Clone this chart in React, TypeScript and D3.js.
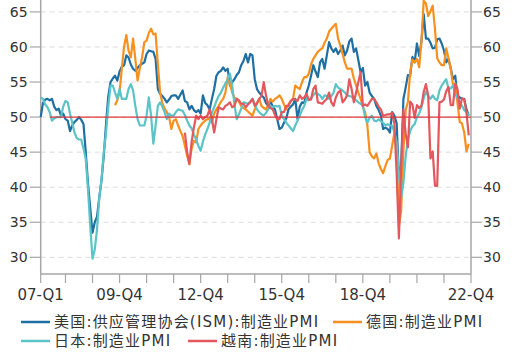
import React from "react";
import * as d3 from "d3";

// monthly data, Jan 2007 .. Nov 2022 (axis runs to Dec 2022)
const monthCount = 192;
const tickLabels = ["07-Q1", "09-Q4", "12-Q4", "15-Q4", "18-Q4", "22-Q4"];
const tickLabelIndex = [0, 35, 71, 107, 143, 191];
const yTicks = [30, 35, 40, 45, 50, 55, 60, 65];

const usIsm = [
  50.0, 52.0, 52.5, 52.6, 52.4, 52.6, 51.5, 51.0, 51.2, 50.2, 50.5, 49.7,
  49.5, 48.0, 48.8, 49.3, 49.6, 50.0, 49.6, 49.0, 45.0, 40.5, 37.0, 33.5,
  35.0, 35.8, 38.5, 41.0, 44.5, 49.0, 53.0, 55.0, 55.5, 55.9, 55.2, 56.5,
  57.2, 57.4, 58.8, 58.5, 57.5, 56.9, 56.6, 57.0, 57.4, 57.6, 57.8, 59.0,
  59.5, 59.4, 59.3, 58.3, 54.0, 53.3, 53.0, 52.6, 52.1, 52.5, 53.0, 53.1,
  53.1, 52.6, 53.2, 53.8, 52.3, 52.1, 51.1, 51.6, 51.0, 50.7, 51.0, 50.5,
  53.1, 52.0, 51.7, 51.1, 52.6, 54.0, 55.9, 56.4, 56.6, 57.1, 56.6, 56.9,
  54.5, 55.0, 55.4, 56.0, 56.4, 57.4, 58.0, 59.0, 57.8, 59.0, 58.8, 55.4,
  54.0, 53.5, 53.1, 52.8, 52.0, 51.6, 52.2, 51.5, 51.1, 49.7, 48.3, 48.5,
  49.2, 49.8, 51.1, 51.5, 51.8, 52.6, 49.7, 51.5, 52.1, 52.0, 53.5, 54.5,
  55.9, 57.4, 56.5, 55.7, 57.8, 58.3, 56.9, 58.8, 60.7, 59.8, 59.3, 59.8,
  59.0, 59.5, 60.2, 58.8, 59.5, 60.8, 61.2, 59.3, 59.8, 58.1, 56.4, 57.0,
  54.5, 55.0, 53.5, 53.0, 52.6, 51.6, 51.0, 50.2, 48.3, 48.5, 48.3, 47.8,
  50.7, 50.2, 49.1, 41.5, 43.1, 52.6, 54.2, 56.0, 55.9, 58.6, 57.8, 60.5,
  58.7, 60.8, 64.7, 61.2, 61.2, 60.6, 59.8, 59.9, 61.1, 61.2, 60.5, 59.5,
  57.8, 58.3, 57.0, 55.4, 55.9, 53.0, 52.8, 52.6, 52.6, 51.1, 50.2,
];

const germanyStart = 33;
const germany = [
  51.7, 52.4, 53.5,
  56.9, 60.0, 61.7, 59.5, 58.5, 61.2, 58.3, 55.2, 57.0, 58.5, 60.7, 60.9,
  62.0, 62.6, 61.8, 61.9, 57.5, 53.5, 52.0, 51.2, 50.7, 50.0, 48.3, 49.5,
  49.7, 48.8, 48.0, 47.3, 45.9, 44.5, 43.3, 45.5, 46.6, 46.4, 48.3, 48.8,
  49.2, 49.5, 49.7, 49.7, 49.2, 50.5, 51.1, 51.6, 52.2, 52.6, 53.5, 55.7,
  54.8, 53.5, 52.8, 52.6, 52.2, 51.6, 51.3, 51.1, 50.8, 50.5, 50.2, 51.1,
  51.9, 52.6, 51.6, 51.3, 51.1, 51.8, 52.6, 52.2, 52.6, 52.8, 53.1, 52.6,
  51.8, 51.1, 51.8, 52.3, 52.6, 54.5, 54.2, 54.0, 55.0, 55.7, 55.7, 56.2,
  57.5, 58.3, 58.8, 59.3, 59.6, 59.8, 60.6, 61.2, 62.2, 62.6, 63.0, 63.3,
  61.2, 60.2, 59.0, 57.8, 56.9, 56.9, 56.9, 55.5, 54.5, 53.5, 52.6, 51.5,
  50.7, 48.8, 45.0, 44.4, 44.1, 44.8, 43.4, 42.6, 42.0, 43.0, 43.9, 44.1,
  45.9, 47.8, 45.4, 34.5, 36.6, 45.2, 51.0, 52.2, 56.4, 58.2, 57.8, 58.3,
  57.1, 60.7, 66.6, 66.2, 64.4, 65.1, 65.9, 62.6, 58.4, 57.8, 57.4, 57.4,
  59.8, 58.4, 56.9, 54.6, 54.8, 52.0, 49.3, 49.1, 47.8, 45.1, 46.2,
];

const japan = [
  52.8, 52.6, 51.8, 51.4, 50.7, 49.5, 49.8, 50.0, 50.0, 50.0, 51.5, 52.3,
  52.1, 50.5, 49.2, 47.8, 47.0, 46.8, 46.8, 45.5, 44.0, 39.7, 34.4, 29.8,
  31.1, 34.0, 38.5, 41.1, 45.0, 47.8, 51.5, 54.5, 54.5, 53.5, 52.6, 54.0,
  52.6, 52.6, 52.6, 54.0, 54.7, 53.8, 51.6, 49.7, 48.8, 48.8, 48.8, 50.2,
  52.8, 50.2, 46.2, 48.8, 51.6, 52.1, 51.5, 50.7, 49.7, 50.5, 50.2, 50.2,
  50.7, 51.1, 51.0, 50.9, 50.3, 49.5, 48.8, 48.4, 47.5, 46.8, 45.9, 45.2,
  46.5, 47.5, 48.3, 49.2, 50.7, 51.4, 52.3, 53.0, 53.5, 54.2, 54.8, 55.4,
  56.2, 54.5, 51.8, 49.7, 50.4, 51.2, 52.1, 52.0, 51.9, 52.2, 52.6, 51.9,
  51.1, 50.7, 50.4, 50.2, 50.6, 51.1, 51.6, 51.4, 51.6, 51.5, 51.6, 50.2,
  49.7, 49.2, 48.8, 48.4, 48.0, 48.8, 49.5, 50.2, 51.0, 51.6, 52.6, 52.4,
  52.7, 53.1, 53.5, 53.3, 53.1, 52.6, 53.1, 53.0, 52.6, 53.0, 53.5, 54.7,
  54.2, 54.0, 53.8, 53.5, 53.1, 53.0, 52.9, 52.6, 52.4, 52.1, 51.9, 51.6,
  50.0, 49.2, 49.9, 50.2, 49.5, 49.4, 49.7, 49.4, 49.2, 48.8, 49.0, 48.8,
  48.8, 47.8, 46.5, 41.9, 38.4, 40.6, 44.4, 46.8, 48.0, 48.7, 49.0, 50.0,
  50.5, 51.4, 52.7, 53.6, 53.0, 52.6, 53.1, 52.6, 52.4, 53.8, 54.5, 55.0,
  55.4, 54.0, 54.1, 54.5, 53.3, 52.7, 52.1, 51.6, 51.0, 50.7, 50.2,
];

const vietnamStart = 64;
const vietnam = [
  47.8, 45.0, 43.3, 46.5, 48.5, 50.2, 49.7, 50.2,
  49.7, 50.0, 50.2, 51.1, 49.7, 47.8, 49.7, 51.4, 51.2, 51.1, 51.6, 51.8,
  52.1, 51.4, 51.6, 52.6, 52.4, 51.9, 51.9, 51.4, 51.8, 52.1, 52.6, 51.6,
  52.0, 52.6, 53.0, 55.0, 53.1, 51.6, 51.3, 51.1, 50.3, 49.7, 49.7, 50.7,
  50.7, 51.6, 51.6, 52.3, 52.6, 52.5, 52.3, 53.1, 52.6, 52.8, 53.3, 52.5,
  52.5, 54.0, 54.5, 52.1, 52.0, 51.9, 52.3, 52.6, 53.5, 52.1, 51.6, 52.8,
  53.5, 53.8, 52.1, 52.5, 53.1, 55.4, 54.0, 52.1, 53.5, 55.0, 56.4, 51.6,
  51.8, 51.6, 52.1, 52.6, 52.6, 52.1, 51.5, 51.1, 50.2, 50.3, 50.4, 50.4,
  50.6, 49.0, 41.9, 32.7, 42.7, 51.1, 47.6, 45.7, 52.2, 51.8, 49.9, 51.7,
  51.3, 51.6, 53.6, 54.7, 53.1, 44.1, 45.1, 40.2, 40.2, 52.1, 52.2, 52.5,
  53.7, 54.3, 51.7, 51.7, 54.7, 54.0, 51.2, 52.7, 52.5, 50.6, 47.4,
];

const threshold = 50;
const thresholdStart = 4;

const seriesNames = [
  "美国:供应管理协会(ISM):制造业PMI",
  "德国:制造业PMI",
  "日本:制造业PMI",
  "越南:制造业PMI",
];
const seriesColors = ["#1f6fa3", "#f7901e", "#5cc3c6", "#e2585c"];

const W = 514;
const H = 362;
const plotLeft = 40.7;
const plotRight = 471;
const plotTop = 0;
const plotBottom = 274;
const font = "'DejaVu Sans', 'Noto Sans CJK SC', sans-serif";

function toPoints(values: number[], start: number) {
  return values.map((v, i) => ({ i: i + start, v }));
}

export default function App() {
  const x = d3.scaleLinear().domain([0, monthCount - 1]).range([plotLeft, plotRight]);
  const y = d3.scaleLinear().domain([27.62, 66.7]).range([plotBottom, plotTop]);

  const series = [
    toPoints(usIsm, 0),
    toPoints(germany, germanyStart),
    toPoints(japan, 0),
    toPoints(vietnam, vietnamStart),
  ];

  const line = d3
    .line<{ i: number; v: number }>()
    .x((d) => x(d.i))
    .y((d) => y(d.v));

  const xTicks = [0, ...d3.range(11, monthCount - 1, 12), monthCount - 1];

  const legendPos = [
    { x: 21, y: 322 },
    { x: 333, y: 322 },
    { x: 21, y: 341 },
    { x: 188, y: 341 },
  ];

  return (
    <svg
      width={W}
      height={H}
      style={{ position: "absolute", left: 0, top: 0, background: "#fff" }}
      fontFamily={font}
    >
      {/* grid */}
      {yTicks.map((t) => (
        <line
          key={"g" + t}
          x1={plotLeft}
          x2={plotRight}
          y1={y(t)}
          y2={y(t)}
          stroke="#dcdcdc"
          strokeDasharray="5,4"
        />
      ))}

      {/* axes */}
      <line x1={plotLeft} x2={plotLeft} y1={plotTop} y2={plotBottom} stroke="#a6a6a6" strokeWidth={1.5} />
      <line x1={plotRight} x2={plotRight} y1={plotTop} y2={plotBottom} stroke="#a6a6a6" strokeWidth={1.5} />
      <line x1={plotLeft} x2={plotRight} y1={plotBottom} y2={plotBottom} stroke="#a6a6a6" strokeWidth={1.5} />

      {yTicks.map((t) => (
        <g key={"y" + t}>
          <line x1={plotLeft - 11} x2={plotLeft} y1={y(t)} y2={y(t)} stroke="#a6a6a6" strokeWidth={1.2} />
          <line x1={plotRight} x2={plotRight + 11} y1={y(t)} y2={y(t)} stroke="#a6a6a6" strokeWidth={1.2} />
          <text x={plotLeft - 13} y={y(t)} textAnchor="end" dominantBaseline="central" fontSize={14} fill="#333">
            {t}
          </text>
          <text x={plotRight + 12} y={y(t)} textAnchor="start" dominantBaseline="central" fontSize={14} fill="#333">
            {t}
          </text>
        </g>
      ))}

      {xTicks.map((t) => (
        <line key={"x" + t} x1={x(t)} x2={x(t)} y1={plotBottom} y2={plotBottom + 9} stroke="#a6a6a6" strokeWidth={1.2} />
      ))}
      {tickLabels.map((lab, k) => (
        <text key={lab} x={x(tickLabelIndex[k])} y={299.5} textAnchor="middle" fontSize={15} fill="#333">
          {lab}
        </text>
      ))}

      {/* series */}
      {series.map((pts, k) => (
        <path
          key={"s" + k}
          d={line(pts) || ""}
          fill="none"
          stroke={seriesColors[k]}
          strokeWidth={2.2}
          strokeLinejoin="round"
        />
      ))}

      {/* 50 line */}
      <line
        x1={x(thresholdStart)}
        x2={x(monthCount - 1)}
        y1={y(threshold)}
        y2={y(threshold)}
        stroke="#d9363e"
        strokeWidth={1.3}
      />

      {/* legend */}
      {seriesNames.map((name, k) => (
        <g key={"l" + k}>
          <line
            x1={legendPos[k].x}
            x2={legendPos[k].x + 29}
            y1={legendPos[k].y}
            y2={legendPos[k].y}
            stroke={seriesColors[k]}
            strokeWidth={2.5}
          />
          <text
            x={legendPos[k].x + 33}
            y={legendPos[k].y}
            dominantBaseline="central"
            fontSize={15}
            letterSpacing={1.2}
            fill="#333"
          >
            {name}
          </text>
        </g>
      ))}
    </svg>
  );
}
